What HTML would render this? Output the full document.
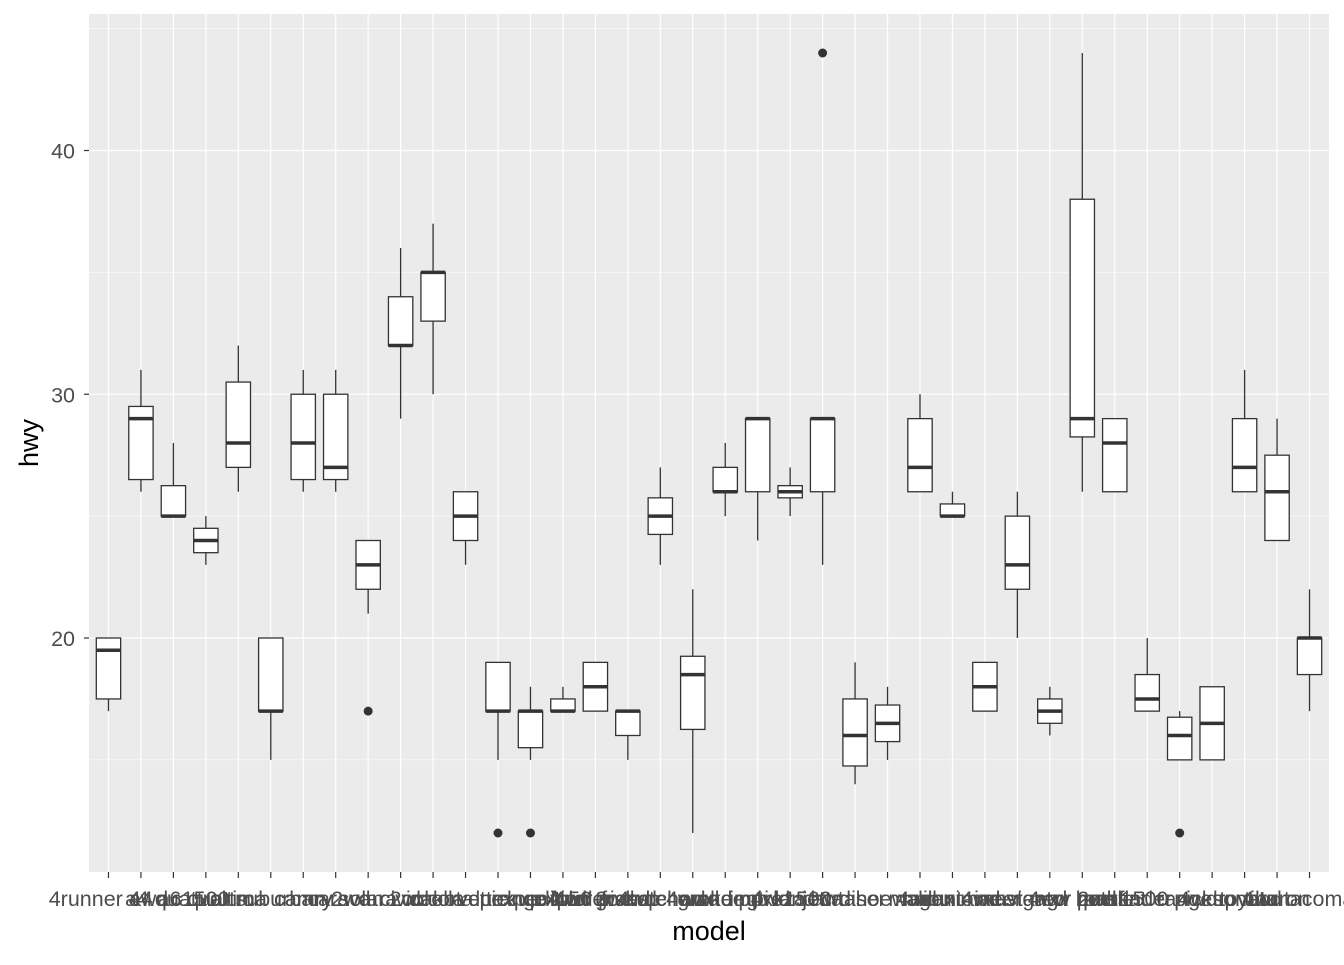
<!DOCTYPE html>
<html><head><meta charset="utf-8"><style>
body{margin:0;background:#fff}
svg text{font-family:"Liberation Sans",sans-serif}
</style></head><body>
<svg id="chart" width="1344" height="960" viewBox="0 0 1344 960" xmlns="http://www.w3.org/2000/svg"></svg>
<script>
const categories=["4runner 4wd","a4","a4 quattro","a6 quattro","altima","c1500 suburban 2wd","camry","camry solara","caravan 2wd","civic","corolla","corvette","dakota pickup 4wd","durango 4wd","expedition 2wd","explorer 4wd","f150 pickup 4wd","forester awd","grand cherokee 4wd","grand prix","gti","impreza awd","jetta","k1500 tahoe 4wd","land cruiser wagon 4wd","malibu","maxima","mountaineer 4wd","mustang","navigator 2wd","new beetle","passat","pathfinder 4wd","ram 1500 pickup 4wd","range rover","sonata","tiburon","toyota tacoma 4wd"];
const lows=[17,26,25,23,26,15,26,26,21,29,30,23,15,15,17,17,15,23,12,25,24,25,23,14,15,26,25,17,20,16,26,26,17,15,15,26,24,17];
const q1s=[17.5,26.5,25,23.5,27,17,26.5,26.5,22,32,33,24,17,15.5,17,17,16,24.25,16.25,26,26,25.75,26,14.75,15.75,26,25,17,22,16.5,28.25,26,17,15,15,26,24,18.5];
const medians=[19.5,29,25,24,28,17,28,27,23,32,35,25,17,17,17,18,17,25,18.5,26,29,26,29,16,16.5,27,25,18,23,17,29,28,17.5,16,16.5,27,26,20];
const q3s=[20,29.5,26.25,24.5,30.5,20,30,30,24,34,35,26,19,17,17.5,19,17,25.75,19.25,27,29,26.25,29,17.5,17.25,29,25.5,19,25,17.5,38,29,18.5,16.75,18,29,27.5,20];
const highs=[20,31,28,25,32,20,31,31,24,36,37,26,19,18,18,19,17,27,22,28,29,27,29,19,18,30,26,19,26,18,44,29,20,17,18,31,29,22];
const outlierIdx=[8,12,13,22,33];
const outlierVals=[17,12,12,44,12];
const yMajor=[20,30,40];
const yMinor=[15,25,35,45];

const svg=document.getElementById('chart');
const NS='http://www.w3.org/2000/svg';
const PL=89,PR=1329,PT=14,PB=872;
const yMin=10.4,yMax=45.6;
const y=v=>PB-(v-yMin)/(yMax-yMin)*(PB-PT);
const step=(PR-PL)/(categories.length+0.2);
const x=i=>PL+step*(0.6+i);
function mk(tag,attrs,parent){const e=document.createElementNS(NS,tag);for(const k in attrs)e.setAttribute(k,attrs[k]);(parent||svg).appendChild(e);return e;}

const panel=mk('rect',{x:PL,y:PT,width:PR-PL,height:PB-PT,fill:'#ebebeb'});


yMinor.forEach(v=>{const l=mk('line',{x1:PL,x2:PR,y1:y(v),y2:y(v),stroke:'#fff','stroke-width':0.6});

});
yMajor.forEach(v=>{const l=mk('line',{x1:PL,x2:PR,y1:y(v),y2:y(v),stroke:'#fff','stroke-width':1.2});


const t=mk('line',{x1:PL-5,x2:PL,y1:y(v),y2:y(v),stroke:'#333','stroke-width':1.2});


const tx=mk('text',{x:PL-14,y:y(v)+8,'text-anchor':'end','font-size':21.5,fill:'#4d4d4d'});tx.textContent=v;

});
categories.forEach((c,i)=>{const l=mk('line',{x1:x(i),x2:x(i),y1:PT,y2:PB,stroke:'#fff','stroke-width':1.2});


const t=mk('line',{x1:x(i),x2:x(i),y1:PB,y2:PB+6,stroke:'#333','stroke-width':1.2});


const tx=mk('text',{x:x(i),y:906,'text-anchor':'middle','font-size':21.5,fill:'#4d4d4d'});tx.textContent=c;

});
const bw=step*0.75;
categories.forEach((c,i)=>{const g=mk('g',{});


mk('line',{x1:x(i),x2:x(i),y1:y(highs[i]),y2:y(q3s[i]),stroke:'#333','stroke-width':1.3},g);
mk('line',{x1:x(i),x2:x(i),y1:y(q1s[i]),y2:y(lows[i]),stroke:'#333','stroke-width':1.3},g);
mk('rect',{x:x(i)-bw/2,y:y(q3s[i]),width:bw,height:Math.max(0,y(q1s[i])-y(q3s[i])),fill:'#fff',stroke:'#333','stroke-width':1.3},g);
mk('line',{x1:x(i)-bw/2,x2:x(i)+bw/2,y1:y(medians[i]),y2:y(medians[i]),stroke:'#333','stroke-width':3.5},g);});
outlierIdx.forEach((i,k)=>{const o=mk('circle',{cx:x(i),cy:y(outlierVals[k]),r:4.5,fill:'#333'});

});
const xt=mk('text',{x:(PL+PR)/2,y:940,'text-anchor':'middle','font-size':27,fill:'#000'});xt.textContent='model';


const yt=mk('text',{x:0,y:0,'text-anchor':'middle','font-size':27,fill:'#000',transform:'translate(38,'+((PT+PB)/2)+') rotate(-90)'});yt.textContent='hwy';


</script>
</body></html>
